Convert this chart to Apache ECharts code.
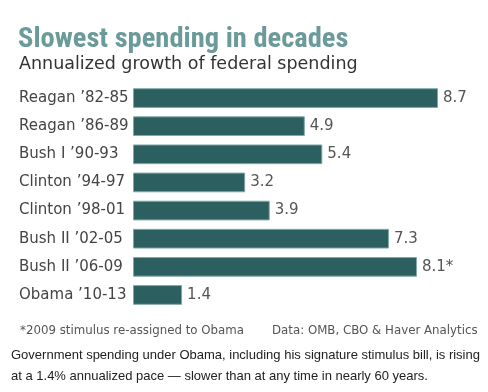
<!DOCTYPE html>
<html><head><meta charset="utf-8">
<script src="https://cdn.jsdelivr.net/npm/echarts@6/dist/echarts.min.js"></script>
<style>html,body{margin:0;padding:0;background:#fff;}#c{width:488px;height:392px;}</style>
</head><body><div id="c"></div>
<script>
const categories = ["Reagan \u201982-85","Reagan \u201986-89","Bush I \u201990-93","Clinton \u201994-97","Clinton \u201998-01","Bush II \u201902-05","Bush II \u201906-09","Obama \u201910-13"];
const values = [8.7, 4.9, 5.4, 3.2, 3.9, 7.3, 8.1, 1.4];
const labelSuffix = ["", "", "", "", "", "", "*", ""];
const titleText = "Slowest spending in decades";
const subtitleText = "Annualized growth of federal spending";
const footLeft = "*2009 stimulus re-assigned to Obama";
const footRight = "Data: OMB, CBO & Haver Analytics";
const captionLines = ["Government spending under Obama, including his signature stimulus bill, is rising", "at a 1.4% annualized pace \u2014 slower than at any time in nearly 60 years."];

const chart = echarts.init(document.getElementById('c'), null, {renderer:'canvas'});
chart.setOption({
  animation:false,
  backgroundColor:'#fff',
  grid:{left:133, top:84, width:350.6, height:225, containLabel:false},
  xAxis:{type:'value', min:0, max:10, show:false},
  yAxis:{type:'category', data:categories, inverse:true,
    axisLine:{show:false}, axisTick:{show:false}, splitLine:{show:false},
    axisLabel:{align:'left', margin:114, color:'#444', fontFamily:'DejaVu Sans', fontSize:15}},
  series:[{type:'bar', data:values, barCategoryGap:'30%',
    itemStyle:{color:'#2b5f60', borderColor:'#7fa8a8', borderWidth:1},
    label:{show:true, position:'right', distance:5, color:'#555', fontFamily:'DejaVu Sans', fontSize:15,
      formatter:p=>p.value.toFixed(1)+labelSuffix[p.dataIndex]}}],
  graphic:[
    {type:'text', left:18, top:25, style:{text:titleText, fill:'#6b9a9a', font:'bold 28.5px "Liberation Sans Narrow", "Roboto Condensed", sans-serif'}},
    {type:'text', left:19, top:55, style:{text:subtitleText, fill:'#333', font:'17.5px "DejaVu Sans"'}},
    {type:'text', left:20, top:325, style:{text:footLeft, fill:'#555', font:'11.8px "DejaVu Sans"'}},
    {type:'text', left:272, top:325, style:{text:footRight, fill:'#555', font:'11.8px "DejaVu Sans"'}},
    {type:'text', left:11, top:349, style:{text:captionLines[0], fill:'#222', font:'13px "Liberation Sans"'}},
    {type:'text', left:11, top:370, style:{text:captionLines[1], fill:'#222', font:'13px "Liberation Sans"'}}
  ]
});
</script></body></html>
